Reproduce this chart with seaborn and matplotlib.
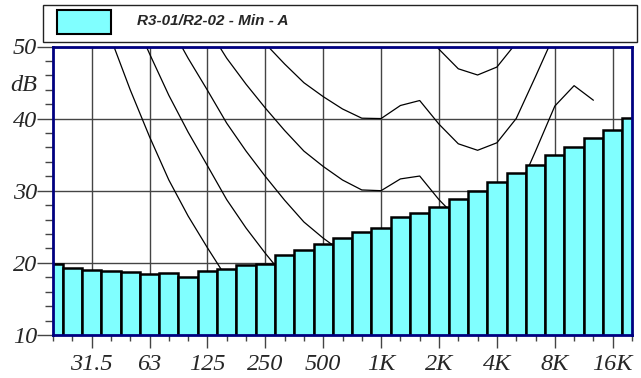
import pandas as pd
import matplotlib
matplotlib.use('Agg')
import matplotlib.pyplot as plt
import seaborn as sns
from matplotlib.patches import Rectangle
from matplotlib.transforms import blended_transform_factory

# 1/3 octave bands, 20 Hz .. 20 kHz
bands = ['20', '25', '31.5', '40', '50', '63', '80', '100', '125', '160', '200',
         '250', '315', '400', '500', '630', '800', '1K', '1.25K', '1.6K', '2K',
         '2.5K', '3.15K', '4K', '5K', '6.3K', '8K', '10K', '12.5K', '16K', '20K']
levels = [19.9, 19.3, 19.0, 18.9, 18.7, 18.4, 18.55, 18.0, 18.85, 19.2, 19.7,
          19.85, 21.1, 21.8, 22.55, 23.4, 24.3, 24.85, 26.4, 26.9, 27.8,
          28.8, 30.0, 31.25, 32.4, 33.6, 34.9, 36.1, 37.3, 38.4, 40.1]

# equal loudness contours (20 Hz .. 12.5 kHz)
threshold = [78.5, 68.7, 59.5, 51.1, 44.0, 37.5, 31.5, 26.5, 22.1, 17.9, 14.4, 11.4,
             8.6, 6.2, 4.4, 3.0, 2.2, 2.4, 3.5, 1.7, -1.3, -4.2, -6.0, -5.4, -1.5,
             6.0, 12.6, 13.9, 12.3]
phon10 = [83.75, 75.76, 68.21, 61.14, 54.96, 49.01, 43.24, 38.13, 33.48, 28.77, 24.84,
          21.33, 18.05, 15.14, 12.98, 11.18, 9.99, 10.0, 11.26, 10.43, 7.27, 4.45,
          3.04, 3.8, 7.46, 14.35, 20.98, 23.43, 22.33]
phon20 = [89.58, 82.65, 75.98, 69.62, 64.02, 58.55, 53.19, 48.38, 43.94, 39.37, 35.51,
          31.99, 28.69, 25.67, 23.43, 21.48, 20.1, 20.01, 21.46, 21.4, 18.15, 15.38,
          14.26, 15.14, 18.63, 25.02, 31.52, 34.43, 31.37]
phon30 = [96.9, 90.4, 84.2, 78.3, 73.2, 68.3, 63.4, 56.8, 52.64, 48.38, 44.78, 41.47,
          38.36, 35.5, 33.37, 31.49, 30.11, 30.01, 31.64, 32.04, 28.76, 26.03, 25.05,
          26.02, 29.42, 35.48, 41.74, 44.57, 42.55]
phon40 = [99.85, 93.94, 88.17, 82.63, 77.78, 73.08, 68.48, 64.37, 60.59, 56.7, 53.41,
          50.4, 47.58, 44.98, 43.05, 41.34, 40.06, 40.01, 41.82, 42.51, 39.23, 36.51,
          35.61, 36.65, 40.01, 45.83, 51.8, 54.28, 51.49]
phon50 = [107.6, 102.6, 97.7, 93.1, 88.6, 84.6, 80.4, 76.6, 73.2, 69.7, 66.5, 63.6,
          60.7, 58.1, 55.9, 51.1, 49.98, 50.01, 51.99, 52.88, 49.62, 46.91, 46.05,
          47.15, 50.48, 56.11, 61.76, 63.5, 59.9]
contours = [threshold, phon10, phon20, phon30, phon40, phon50]

octave_labels = ['31.5', '63', '125', '250', '500', '1K', '2K', '4K', '8K', '16K']
y_labels = ['10', '20', '30', '40', '50']
legend_label = 'R3-01/R2-02 - Min - A'

df = pd.DataFrame({'pos': range(len(bands)), 'level': levels})
octave_pos = [bands.index(b) for b in octave_labels]

sns.set_theme(style='white')
plt.rcParams['font.family'] = ['Liberation Serif', 'DejaVu Serif']
plt.rcParams['font.style'] = 'italic'

fig = plt.figure(figsize=(6.41, 3.78), dpi=100)
ax = fig.add_axes([53 / 641, 43 / 378, 579 / 641, 288.5 / 378])

for c in contours:
    sns.lineplot(x=list(range(len(c))), y=c, color='black', linewidth=0.9, ax=ax,
                 zorder=1.5)

sns.barplot(data=df, x='pos', y='level', native_scale=True, width=1, color='#80FFFF',
            saturation=1, edgecolor='black', linewidth=1.8, errorbar=None, ax=ax)
for p in ax.patches:
    p.set_zorder(2)

ax.set_xlim(0, 30)
ax.set_ylim(10, 50)
ax.set_xticks(octave_pos, labels=octave_labels, fontstyle='italic')
ax.set_xticks(range(31), minor=True)
ax.set_yticks([int(v) for v in y_labels], labels=y_labels, fontstyle='italic')
ax.set_yticks(range(10, 51, 2), minor=True)
ax.set_xlabel('')
ax.set_ylabel('')

ax.set_axisbelow(True)
ax.grid(True, which='major', color='#444444', linewidth=1)

ax.tick_params(axis='x', which='major', direction='out', length=9.5, width=1,
               color='#444444', pad=4, labelsize=17.5, bottom=True)
ax.tick_params(axis='x', which='minor', direction='out', length=4.5, width=1,
               color='#444444', bottom=True)
ax.tick_params(axis='y', which='major', direction='out', length=11.5, width=1,
               color='#444444', pad=0, labelsize=17.5, left=True)
ax.tick_params(axis='y', which='minor', direction='out', length=5.8, width=1,
               color='#444444', left=True)

for s in ax.spines.values():
    s.set_color('#000080')
    s.set_linewidth(2)
    s.set_visible(True)

trans = blended_transform_factory(ax.transAxes, ax.transData)
ax.text(-0.028, 44.6, 'dB', transform=trans, ha='right', va='center',
        fontsize=17.5, fontstyle='italic')

# legend box above the plot
fig.patches.append(Rectangle((43 / 641, 1 - 42 / 378), 594 / 641, 37 / 378,
                             transform=fig.transFigure, fill=False,
                             edgecolor='#222222', linewidth=1))
fig.patches.append(Rectangle((57 / 641, 1 - 34 / 378), 54 / 641, 24 / 378,
                             transform=fig.transFigure, facecolor='#80FFFF',
                             edgecolor='black', linewidth=1.5))
fig.text(137 / 641, 1 - 21 / 378, legend_label, fontsize=11, fontweight='bold',
         fontstyle='italic', family=['Liberation Sans', 'DejaVu Sans'], va='center')

fig.savefig('out.png', dpi=100)
plt.close(fig)
